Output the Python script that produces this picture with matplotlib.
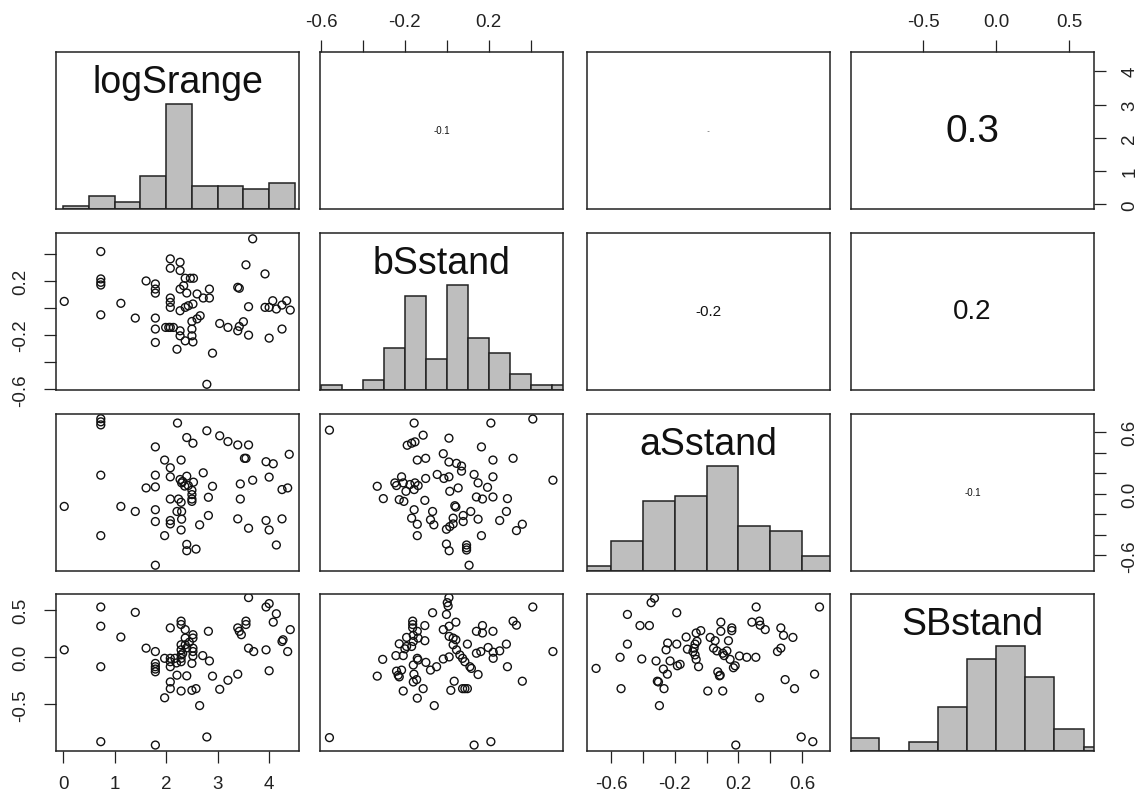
import matplotlib
matplotlib.use("Agg")
import matplotlib.pyplot as plt

plt.rcParams["font.family"] = ["Liberation Sans", "DejaVu Sans"]

# --------------------------------------------------------------------------- #
# Data
# --------------------------------------------------------------------------- #
names = ["logSrange", "bSstand", "aSstand", "SBstand"]

# axis limits of each variable (R adds 4% either side)
limits = [(-0.14, 4.58), (-0.605, 0.554), (-0.751, 0.776), (-0.995, 0.672)]

# histogram breaks and counts on the diagonal
logS_breaks = [0.0, 0.5, 1.0, 1.5, 2.0, 2.5, 3.0, 3.5, 4.0, 4.5]
logS_counts = [1, 4, 2, 10, 32, 7, 7, 6, 8]
bS_breaks = [-0.6, -0.5, -0.4, -0.3, -0.2, -0.1, 0.0, 0.1, 0.2, 0.3, 0.4, 0.5, 0.6]
bS_counts = [1, 0, 2, 8, 18, 6, 20, 10, 7, 3, 1, 1]
aS_breaks = [-0.8, -0.6, -0.4, -0.2, 0.0, 0.2, 0.4, 0.6, 0.8]
aS_counts = [1, 6, 14, 15, 21, 9, 8, 3]
SB_breaks = [-1.0, -0.8, -0.6, -0.4, -0.2, 0.0, 0.2, 0.4, 0.6, 0.8]
SB_counts = [3, 0, 2, 10, 21, 24, 17, 5, 1]

# correlations printed in the upper panels
corr_text = {(0, 1): "-0.1", (0, 2): "-0.01", (0, 3): "0.3",
             (1, 2): "-0.2", (1, 3): "0.2", (2, 3): "-0.1"}

# scatter points (x, y) of the lower panels
logS_bS = [
    (0.02, 0.049), (0.73, 0.417), (0.73, 0.215), (0.73, 0.19), (0.73, 0.17),
    (0.73, -0.05), (1.12, 0.035), (1.40, -0.074), (1.61, 0.2), (1.79, 0.178),
    (1.79, 0.14), (1.79, 0.11), (1.79, -0.074), (1.79, -0.155), (1.79, -0.254),
    (1.99, -0.143), (2.08, -0.143), (2.08, 0.363), (2.08, 0.294), (2.08, 0.074),
    (2.08, 0.042), (2.08, 0.005), (2.21, -0.304), (2.27, 0.338), (2.27, 0.277),
    (2.27, 0.14), (2.27, -0.02), (2.27, -0.168), (2.27, -0.205), (2.37, 0.22),
    (2.47, 0.22), (2.53, 0.22), (2.37, 0.005), (2.43, 0.017), (2.40, 0.111),
    (2.60, 0.104), (2.52, 0.03), (2.50, -0.099), (2.50, -0.155), (2.50, -0.205),
    (2.52, -0.25), (2.37, -0.242), (2.66, -0.057), (2.72, 0.074), (2.84, 0.14),
    (2.84, 0.074), (2.90, -0.333), (2.79, -0.563), (3.04, -0.114), (3.20, -0.143),
    (3.39, 0.153), (3.42, 0.146), (3.42, -0.136), (3.39, -0.168), (3.50, -0.101),
    (3.55, 0.319), (3.60, 0.01), (3.60, -0.2), (3.68, 0.511), (3.92, 0.252),
    (3.92, 0.005), (4.00, 0.005), (4.00, -0.222), (4.07, 0.054), (4.14, -0.007),
    (4.25, 0.022), (4.25, -0.155), (4.34, 0.054), (4.41, -0.015), (2.14, -0.143),
    (2.34, 0.165), (2.60, -0.08), (2.05, -0.143),
]

logS_aS = [
    (0.73, 0.73), (0.73, 0.70), (0.73, 0.67), (2.22, 0.688), (2.79, 0.613),
    (3.04, 0.564), (2.40, 0.547), (2.52, 0.492), (3.20, 0.508), (3.39, 0.475),
    (3.60, 0.475), (3.52, 0.345), (3.55, 0.345), (4.39, 0.384), (3.94, 0.312),
    (4.08, 0.292), (1.79, 0.456), (1.97, 0.328), (2.08, 0.253), (2.29, 0.328),
    (0.73, 0.181), (1.79, 0.181), (2.08, 0.165), (2.27, 0.139), (2.30, 0.106),
    (2.40, 0.171), (2.53, 0.113), (2.72, 0.204), (1.61, 0.057), (1.79, 0.067),
    (2.43, 0.080), (2.50, 0.034), (2.50, -0.008), (2.50, -0.051), (2.50, -0.074),
    (2.90, 0.073), (3.44, 0.096), (3.68, 0.132), (4.00, 0.162), (4.25, 0.041),
    (4.36, 0.057), (2.82, -0.034), (3.44, -0.051), (2.08, -0.051), (2.24, -0.051),
    (2.29, -0.083), (0.02, -0.123), (1.12, -0.123), (1.40, -0.172), (1.79, -0.155),
    (2.21, -0.172), (2.30, -0.172), (1.79, -0.27), (2.08, -0.26), (2.08, -0.293),
    (2.30, -0.247), (2.82, -0.211), (2.65, -0.302), (3.39, -0.244), (3.94, -0.26),
    (4.25, -0.244), (3.60, -0.335), (4.00, -0.352), (2.29, -0.352), (0.73, -0.407),
    (1.97, -0.407), (2.40, -0.492), (2.40, -0.554), (2.58, -0.538), (4.14, -0.498),
    (1.79, -0.695), (2.32, 0.12), (2.36, 0.075),
]

logS_SB = [
    (0.02, 0.079), (0.73, 0.534), (0.73, 0.33), (0.73, -0.10), (0.73, -0.896),
    (1.12, 0.215), (1.40, 0.477), (1.61, 0.097), (1.79, 0.061), (1.79, -0.065),
    (1.79, -0.10), (1.79, -0.125), (1.79, -0.154), (1.79, -0.932), (1.97, -0.43),
    (2.08, 0.312), (2.08, -0.011), (2.08, -0.047), (2.08, -0.10), (2.08, -0.262),
    (2.08, -0.333), (1.97, -0.011), (2.17, -0.011), (2.21, -0.19), (2.29, 0.384),
    (2.29, 0.348), (2.29, 0.133), (2.29, 0.079), (2.29, 0.025), (2.29, -0.011),
    (2.29, -0.047), (2.29, -0.358), (2.37, 0.294), (2.37, 0.204), (2.37, 0.133),
    (2.40, -0.197), (2.52, 0.24), (2.52, 0.204), (2.52, 0.097), (2.52, 0.061),
    (2.52, 0.014), (2.50, -0.065), (2.50, -0.351), (2.58, -0.333), (2.65, -0.513),
    (2.82, 0.276), (2.71, 0.018), (2.84, -0.039), (2.90, -0.2), (2.79, -0.846),
    (3.04, -0.34), (3.20, -0.244), (3.39, -0.179), (3.39, 0.312), (3.42, 0.276),
    (3.46, 0.24), (3.55, 0.384), (3.55, 0.348), (3.60, 0.634), (3.60, 0.097),
    (3.70, 0.061), (3.94, 0.534), (4.00, 0.57), (4.14, 0.462), (4.08, 0.373),
    (3.94, 0.079), (4.00, -0.143), (4.25, 0.168), (4.27, 0.186), (4.36, 0.061),
    (4.41, 0.294), (2.32, 0.04), (2.40, 0.10), (2.45, 0.16), (2.20, -0.06),
]

bS_aS = [
    (-0.56, 0.619), (-0.156, 0.688), (0.21, 0.688), (0.41, 0.727), (-0.113, 0.57),
    (-0.152, 0.505), (-0.168, 0.492), (-0.189, 0.472), (0.01, 0.541), (0.165, 0.456),
    (-0.141, 0.328), (-0.101, 0.345), (-0.017, 0.39), (0.01, 0.309), (0.046, 0.296),
    (0.07, 0.27), (0.07, 0.22), (0.22, 0.328), (0.316, 0.345), (-0.216, 0.165),
    (-0.248, 0.106), (-0.24, 0.08), (-0.208, 0.106), (-0.176, 0.09), (-0.152, 0.106),
    (-0.137, 0.08), (-0.101, 0.149), (-0.332, 0.073), (-0.046, 0.188), (-0.014, 0.149),
    (0.01, 0.165), (0.13, 0.188), (0.149, 0.106), (0.194, 0.063), (0.22, 0.165),
    (0.506, 0.132), (-0.156, 0.041), (-0.195, 0.024), (0.014, 0.024), (0.054, 0.057),
    (-0.303, -0.047), (-0.227, -0.057), (-0.205, -0.074), (-0.105, -0.064),
    (0.141, -0.031), (0.17, -0.051), (0.22, -0.031), (0.289, -0.047), (0.038, -0.116),
    (0.043, -0.129), (-0.156, -0.155), (-0.168, -0.237), (-0.141, -0.296),
    (-0.141, -0.407), (-0.068, -0.172), (-0.078, -0.253), (-0.062, -0.302),
    (0.03, -0.237), (0.078, -0.211), (0.114, -0.172), (0.149, -0.247), (0.284, -0.172),
    (0.252, -0.26), (-0.002, -0.345), (0.014, -0.319), (0.03, -0.293), (0.078, -0.27),
    (0.36, -0.296), (0.332, -0.358), (0.165, -0.407), (-0.002, -0.489), (0.011, -0.554),
    (0.094, -0.498), (0.094, -0.525), (0.094, -0.547), (0.106, -0.695),
]

bS_SB = [
    (-0.56, -0.853), (0.01, 0.634), (0.002, 0.58), (0.006, 0.545), (-0.068, 0.473),
    (-0.002, 0.455), (0.41, 0.534), (-0.163, 0.384), (-0.163, 0.348), (-0.163, 0.312),
    (-0.105, 0.337), (-0.141, 0.276), (-0.192, 0.211), (-0.16, 0.233), (-0.137, 0.204),
    (-0.227, 0.143), (-0.192, 0.115), (-0.2, 0.09), (-0.168, 0.115), (-0.16, 0.168),
    (-0.105, 0.176), (-0.243, 0.018), (-0.208, 0.018), (-0.306, -0.022), (-0.332, -0.2),
    (-0.24, -0.147), (-0.232, -0.19), (-0.216, -0.136), (-0.227, -0.208),
    (-0.141, -0.011), (-0.137, -0.029), (-0.16, -0.082), (-0.1, -0.054), (-0.078, -0.136),
    (-0.049, -0.1), (-0.017, -0.018), (0.011, 0.004), (-0.157, -0.179), (-0.144, -0.237),
    (-0.16, -0.262), (-0.208, -0.358), (-0.113, -0.333), (-0.141, -0.434), (-0.06, -0.513),
    (-0.017, 0.294), (0.011, 0.33), (0.043, 0.373), (0.011, 0.222), (0.03, 0.204),
    (0.043, 0.186), (0.03, 0.133), (0.046, 0.079), (0.062, 0.025), (0.075, -0.011),
    (0.086, -0.047), (0.11, -0.1), (0.117, -0.118), (0.098, 0.14), (0.149, -0.183),
    (0.035, -0.254), (0.019, -0.351), (0.075, -0.333), (0.086, -0.333), (0.098, -0.333),
    (0.141, 0.276), (0.17, 0.337), (0.17, 0.258), (0.22, 0.276), (0.141, 0.043),
    (0.162, 0.061), (0.197, 0.104), (0.221, 0.054), (0.221, -0.011), (0.252, 0.068),
    (0.284, 0.14), (0.316, 0.384), (0.332, 0.341), (0.289, -0.1), (0.36, -0.254),
    (0.506, 0.061), (0.13, -0.932), (0.21, -0.896),
]

aS_SB = [
    (-0.694, -0.118), (-0.543, 0.0), (-0.537, -0.333), (-0.497, 0.455), (-0.497, 0.14),
    (-0.418, 0.337), (-0.359, 0.337), (-0.348, 0.58), (-0.327, 0.627), (-0.407, -0.018),
    (-0.317, -0.039), (-0.271, -0.125), (-0.246, -0.179), (-0.309, -0.254),
    (-0.302, -0.262), (-0.267, -0.333), (-0.296, -0.513), (-0.254, 0.079), (-0.244, 0.151),
    (-0.187, 0.14), (-0.229, -0.039), (-0.183, -0.09), (-0.166, -0.075), (-0.187, 0.473),
    (-0.128, 0.215), (-0.12, 0.086), (-0.078, 0.097), (-0.072, 0.14), (-0.065, 0.258),
    (-0.036, 0.283), (-0.072, 0.025), (-0.065, -0.022), (-0.05, -0.1), (0.023, 0.211),
    (0.054, 0.176), (0.044, 0.097), (0.065, 0.068), (0.09, 0.373), (0.09, 0.276),
    (0.102, 0.043), (0.111, 0.018), (0.128, 0.068), (0.138, 0.176), (0.159, 0.312),
    (0.159, 0.283), (0.148, -0.022), (0.169, -0.111), (0.18, -0.09), (0.071, -0.154),
    (0.081, -0.197), (0.086, -0.19), (0.008, -0.358), (0.102, -0.358), (0.207, 0.014),
    (0.253, 0.0), (0.31, 0.0), (0.184, -0.932), (0.285, 0.373), (0.312, 0.534),
    (0.333, 0.384), (0.337, 0.341), (0.369, 0.294), (0.333, -0.43), (0.446, 0.061),
    (0.467, 0.097), (0.467, 0.312), (0.484, 0.233), (0.543, 0.211), (0.494, -0.237),
    (0.553, -0.333), (0.679, -0.179), (0.71, 0.534), (0.595, -0.846), (0.668, -0.896),
    (-0.085, 0.06), (-0.06, 0.17),
]

# --------------------------------------------------------------------------- #
# Layout (pixels of the 1143 x 804 reference)
# --------------------------------------------------------------------------- #
W, H = 1143, 804
col_left = [56, 320, 587, 851]
row_top = [53, 234, 415, 595]
pw, ph = 243, 157

hist_data = [(logS_breaks, logS_counts), (bS_breaks, bS_counts),
             (aS_breaks, aS_counts), (SB_breaks, SB_counts)]
scatter_data = {(1, 0): logS_bS, (2, 0): logS_aS, (3, 0): logS_SB,
                (2, 1): bS_aS, (3, 1): bS_SB, (3, 2): aS_SB}
corr_size = {(0, 1): 7, (0, 2): 1.2, (0, 3): 28, (1, 2): 11, (1, 3): 20, (2, 3): 7}

# outer-axis ticks, as R's pairs() draws them
ticks = [
    ([0, 1, 2, 3, 4], ["0", "1", "2", "3", "4"]),
    ([-0.6, -0.4, -0.2, 0.0, 0.2, 0.4], ["-0.6", "", "-0.2", "", "0.2", ""]),
    ([-0.6, -0.4, -0.2, 0.0, 0.2, 0.4, 0.6], ["-0.6", "", "-0.2", "", "0.2", "", "0.6"]),
    ([-0.5, 0.0, 0.5], ["-0.5", "0.0", "0.5"]),
]
aS_right_labels = ["-0.6", "", "", "0.0", "", "", "0.6"]

tick_kw = dict(direction="out", length=8.6, width=0.9, labelsize=13.5, colors="#222222")

fig = plt.figure(figsize=(W / 100, H / 100), dpi=100)

for i in range(4):
    for j in range(4):
        rect = [col_left[j] / W, 1 - (row_top[i] + ph) / H, pw / W, ph / H]
        ax = fig.add_axes(rect)
        ax.set_xlim(*limits[j])
        for s in ax.spines.values():
            s.set_linewidth(1.1)
            s.set_color("#222222")
        ax.set_xticks([])
        ax.set_yticks([])

        if i == j:
            breaks, counts = hist_data[i]
            top = max(counts)
            ax.set_ylim(0, 1.5)
            ax.bar(breaks[:-1], [c / top for c in counts],
                   width=[b - a for a, b in zip(breaks[:-1], breaks[1:])],
                   align="edge", color="#BEBEBE", edgecolor="#222222", linewidth=1.1)
            ax.text(0.5, 0.745, names[i], transform=ax.transAxes,
                    ha="center", va="baseline", fontsize=27, color="#111111")
        elif i < j:
            ax.set_ylim(*limits[i])
            ax.text(0.5, 0.5, corr_text[(i, j)], transform=ax.transAxes,
                    ha="center", va="center", fontsize=corr_size[(i, j)], color="#111111")
        else:
            ax.set_ylim(*limits[i])
            pts = scatter_data[(i, j)]
            ax.scatter([p[0] for p in pts], [p[1] for p in pts], s=32,
                       facecolors="none", edgecolors="#111111", linewidths=1.0)

        # outer axes
        if i == 0 and j % 2 == 1:
            ax.xaxis.set_ticks_position("top")
            ax.set_xticks(ticks[j][0], ticks[j][1])
            ax.tick_params(axis="x", pad=7, **tick_kw)
        if i == 3 and j % 2 == 0:
            ax.set_xticks(ticks[j][0], ticks[j][1])
            ax.tick_params(axis="x", pad=9, **tick_kw)
        if j == 0 and i % 2 == 1:
            ax.set_yticks(ticks[i][0], ticks[i][1], rotation=90, va="center")
            ax.tick_params(axis="y", pad=11, **tick_kw)
        if j == 3 and i % 2 == 0:
            ax.yaxis.set_ticks_position("right")
            labels = ticks[i][1] if i == 0 else aS_right_labels
            ax.set_yticks(ticks[i][0], labels, rotation=90, va="center")
            ax.tick_params(axis="y", pad=11, **tick_kw)

fig.savefig("out.png", dpi=100)
